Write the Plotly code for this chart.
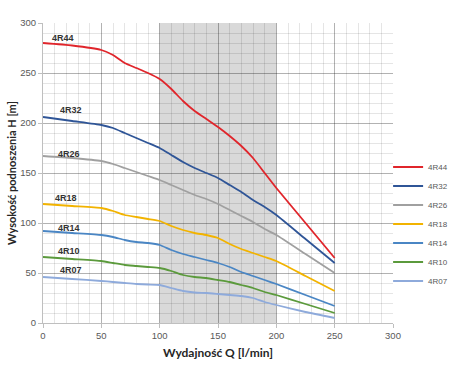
import plotly.graph_objects as go

Q = [0, 25, 50, 60, 70, 80, 90, 100, 110, 120, 130, 140, 150, 160, 170, 180, 190, 200, 225, 250]

series_names = ["4R44", "4R32", "4R26", "4R18", "4R14", "4R10", "4R07"]
h_4R44 = [280, 277.5, 273, 268, 260, 255, 250, 244, 234, 222, 212, 204, 196, 187, 177, 165, 150, 135, 100, 65]
h_4R32 = [206, 202, 198, 195, 190, 185, 180, 175, 168, 161, 155, 150, 145, 138, 131, 123, 116, 108, 84, 60]
h_4R26 = [167, 165, 162, 159, 155, 151, 147, 143, 138, 133, 128, 124, 119, 113, 107, 101, 94, 88, 69, 50]
h_4R18 = [119, 117, 115, 112, 108, 106, 104, 102, 97, 93, 90, 88, 85, 79, 74, 70, 66, 62, 47, 32]
h_4R14 = [92, 90, 88, 86, 83, 81, 80, 78, 73, 69, 66, 63, 60, 56, 51, 47, 43, 39, 28, 17]
h_4R10 = [66, 64, 62, 60, 58, 57, 56, 55, 52, 48, 46, 45, 43, 41, 38, 35, 31, 28, 19, 10]
h_4R07 = [46, 44, 42, 41, 40, 39, 38.5, 38, 35, 32, 30.5, 30, 29, 28, 27, 25, 21, 18, 11, 5]
series_values = [h_4R44, h_4R32, h_4R26, h_4R18, h_4R14, h_4R10, h_4R07]
colors = ["#e0252b", "#2f5597", "#a0a0a0", "#f2b300", "#4a86c4", "#5b9a3c", "#8eaadb"]

label_x = [17, 24, 22, 20, 22, 22, 24]
label_y = [285, 213, 169, 125, 95, 72, 53]

band = [100, 200]
x_ticks = [0, 50, 100, 150, 200, 250, 300]
y_ticks = [0, 50, 100, 150, 200, 250, 300]

fig = go.Figure()
for name, vals, col in zip(series_names, series_values, colors):
    fig.add_trace(go.Scatter(x=Q, y=vals, name=name, mode="lines",
                             line=dict(color=col, width=1.8, shape="spline", smoothing=0.5)))

for name, lx, ly in zip(series_names, label_x, label_y):
    fig.add_annotation(x=lx, y=ly, text="<b>" + name + "</b>", showarrow=False,
                       font=dict(size=9, color="#333333", family="Liberation Sans"))

fig.add_shape(type="rect", xref="x", yref="y", x0=band[0], x1=band[1], y0=0, y1=300,
              fillcolor="#d9d9d9", line=dict(width=0), layer="below")

axis_common = dict(
    showgrid=True, gridcolor="rgba(0,0,0,0.22)", gridwidth=1,
    minor=dict(dtick=10, showgrid=True, gridcolor="rgba(0,0,0,0.10)", gridwidth=1),
    showline=True, linecolor="#bfbfbf", linewidth=1,
    ticks="outside", ticklen=4, tickcolor="#bfbfbf",
    tickfont=dict(size=9.5, color="#595959", family="Liberation Sans"),
    zeroline=False, automargin=False,
)

fig.update_xaxes(range=[0, 300], tickvals=x_ticks, **axis_common,
                 title=dict(text="<b>Wydajność Q [l/min]</b>", standoff=8,
                            font=dict(size=12, color="#262626", family="Lato")))
fig.update_yaxes(range=[0, 300], tickvals=y_ticks, **axis_common,
                 title=dict(text="<b>Wysokość podnoszenia H [m]</b>", standoff=1,
                            font=dict(size=11, color="#262626", family="Lato")))

fig.update_layout(
    width=450, height=376,
    margin=dict(l=43, r=57, t=23, b=53, autoexpand=False),
    plot_bgcolor="white", paper_bgcolor="white",
    legend=dict(x=0.986, y=0.33, xanchor="left", yanchor="middle",
                font=dict(size=8, color="#595959", family="Liberation Sans"),
                itemwidth=30, tracegroupgap=0, bgcolor="rgba(0,0,0,0)"),
    showlegend=True,
)

fig.write_html("out.html", config={"displayModeBar": False},
               post_script="document.body.style.margin='0px';document.body.style.overflow='hidden';")
